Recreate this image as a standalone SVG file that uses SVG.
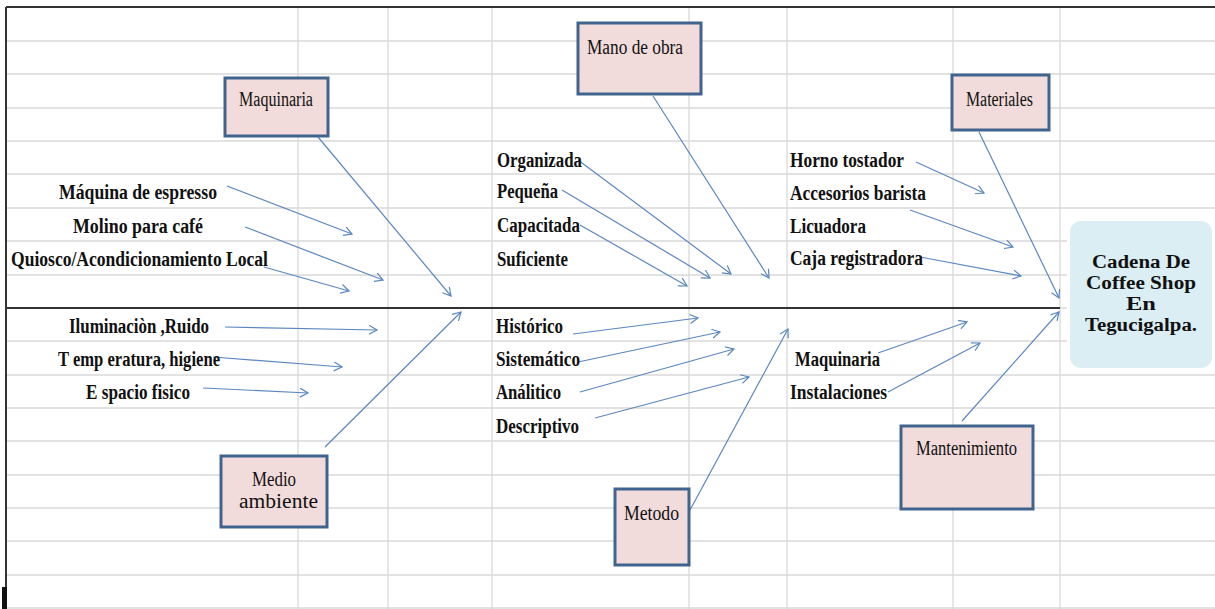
<svg xmlns="http://www.w3.org/2000/svg" width="1215" height="609" viewBox="0 0 1215 609">
<style>
.grid{stroke:#D9D9D9;stroke-width:1.3;fill:none}
.border{stroke:#333;stroke-width:2;fill:none}
.cause rect{fill:#F2DCDB;stroke:#41648F;stroke-width:3}
.cause text{font-family:"Liberation Serif",serif;font-size:20px;fill:#111}
.lbl{font-family:"Liberation Serif",serif;font-size:20px;font-weight:bold;fill:#111}
.conn line{stroke:#5B87C0;stroke-width:1.2;fill:none;marker-end:url(#arr)}
.effect text{font-family:"Liberation Serif",serif;font-size:18px;font-weight:bold;fill:#111;text-anchor:middle}
</style>
<defs>
<marker id="arr" markerUnits="userSpaceOnUse" markerWidth="12" markerHeight="12" refX="9" refY="5" orient="auto">
<path d="M1,0.5 L9,5 L1,9.5" fill="none" stroke="#5B87C0" stroke-width="1.2"/>
</marker>
</defs>
<rect x="0" y="0" width="1215" height="609" fill="#fff"/>
<g id="grid">
<path class="grid" d="M6,41H1215M6,74H1215M6,108H1215M6,141H1215M6,174H1215M6,208H1215M6,241H1215M6,275H1215M1060,308H1215M6,341H1215M6,375H1215M6,408H1215M6,441H1215M6,475H1215M6,508H1215M6,541H1215M6,575H1215M6,608H1215"/>
<path class="grid" d="M298,7V609M388,7V609M492,7V609M689,7V609M787,7V609M953,7V609M1060,7V609"/>
<path class="border" d="M6,7H1215M6,7V609M6,308H1060"/>
<rect x="2" y="587" width="5" height="22" fill="#111"/>
</g>
<g id="connectors" class="conn">
<line x1="227" y1="186" x2="352" y2="234"/>
<line x1="245" y1="227" x2="383" y2="280"/>
<line x1="264" y1="267" x2="349" y2="291"/>
<line x1="318" y1="137" x2="451" y2="296"/>
<line x1="578" y1="160" x2="731" y2="274"/>
<line x1="562" y1="190" x2="710" y2="278"/>
<line x1="580" y1="225" x2="687" y2="286"/>
<line x1="653" y1="96" x2="769" y2="278"/>
<line x1="916" y1="162" x2="984" y2="193"/>
<line x1="910" y1="210" x2="1013" y2="247"/>
<line x1="920" y1="257" x2="1021" y2="276"/>
<line x1="979" y1="132" x2="1059" y2="298"/>
<line x1="225" y1="327" x2="377" y2="330"/>
<line x1="213" y1="357" x2="342" y2="367"/>
<line x1="203" y1="388" x2="308" y2="393"/>
<line x1="325" y1="447" x2="461" y2="312"/>
<line x1="573" y1="334" x2="698" y2="318"/>
<line x1="578" y1="362" x2="720" y2="332"/>
<line x1="580" y1="392" x2="734" y2="349"/>
<line x1="595" y1="418" x2="749" y2="377"/>
<line x1="690" y1="510" x2="788" y2="329"/>
<line x1="878" y1="353" x2="967" y2="322"/>
<line x1="888" y1="392" x2="980" y2="343"/>
<line x1="962" y1="421" x2="1059" y2="312"/>
</g>
<g id="labels">
<text class="lbl" x="59" y="199" textLength="158" lengthAdjust="spacingAndGlyphs">Máquina de espresso</text>
<text class="lbl" x="73" y="233" textLength="130" lengthAdjust="spacingAndGlyphs">Molino para café</text>
<text class="lbl" x="11" y="266" textLength="257" lengthAdjust="spacingAndGlyphs">Quiosco/Acondicionamiento Local</text>
<text class="lbl" x="497" y="167" textLength="85" lengthAdjust="spacingAndGlyphs">Organizada</text>
<text class="lbl" x="497" y="198" textLength="61" lengthAdjust="spacingAndGlyphs">Pequeña</text>
<text class="lbl" x="497" y="232" textLength="83" lengthAdjust="spacingAndGlyphs">Capacitada</text>
<text class="lbl" x="497" y="266" textLength="71" lengthAdjust="spacingAndGlyphs">Suficiente</text>
<text class="lbl" x="790" y="167" textLength="114" lengthAdjust="spacingAndGlyphs">Horno tostador</text>
<text class="lbl" x="790" y="200" textLength="136" lengthAdjust="spacingAndGlyphs">Accesorios barista</text>
<text class="lbl" x="790" y="233" textLength="76" lengthAdjust="spacingAndGlyphs">Licuadora</text>
<text class="lbl" x="790" y="265" textLength="133" lengthAdjust="spacingAndGlyphs">Caja registradora</text>
<text class="lbl" x="69" y="333" textLength="140" lengthAdjust="spacingAndGlyphs">Iluminaciòn ,Ruido</text>
<text class="lbl" x="58" y="366" textLength="162" lengthAdjust="spacingAndGlyphs">T emp eratura, higiene</text>
<text class="lbl" x="86" y="399" textLength="104" lengthAdjust="spacingAndGlyphs">E spacio fisico</text>
<text class="lbl" x="496" y="333" textLength="67" lengthAdjust="spacingAndGlyphs">Histórico</text>
<text class="lbl" x="496" y="366" textLength="84" lengthAdjust="spacingAndGlyphs">Sistemático</text>
<text class="lbl" x="496" y="399" textLength="65" lengthAdjust="spacingAndGlyphs">Análitico</text>
<text class="lbl" x="496" y="433" textLength="83" lengthAdjust="spacingAndGlyphs">Descriptivo</text>
<text class="lbl" x="795" y="366" textLength="85" lengthAdjust="spacingAndGlyphs">Maquinaria</text>
<text class="lbl" x="790" y="399" textLength="97" lengthAdjust="spacingAndGlyphs">Instalaciones</text>
</g>
<g id="maquinaria" class="cause">
<rect x="225" y="78" width="103" height="58"/>
<text x="239" y="106" textLength="74" lengthAdjust="spacingAndGlyphs">Maquinaria</text>
</g>
<g id="mano-de-obra" class="cause">
<rect x="578" y="23" width="123" height="71"/>
<text x="587" y="54" textLength="96" lengthAdjust="spacingAndGlyphs">Mano de obra</text>
</g>
<g id="materiales" class="cause">
<rect x="952" y="75" width="97" height="55"/>
<text x="966" y="106" textLength="67" lengthAdjust="spacingAndGlyphs">Materiales</text>
</g>
<g id="medio-ambiente" class="cause">
<rect x="221" y="456" width="106" height="71"/>
<text x="252" y="486" textLength="44" lengthAdjust="spacingAndGlyphs">Medio</text>
<text x="239" y="508" textLength="79" lengthAdjust="spacingAndGlyphs">ambiente</text>
</g>
<g id="metodo" class="cause">
<rect x="615" y="489" width="74" height="76"/>
<text x="624" y="520" textLength="55" lengthAdjust="spacingAndGlyphs">Metodo</text>
</g>
<g id="mantenimiento" class="cause">
<rect x="901" y="426" width="132" height="83"/>
<text x="916" y="455" textLength="101" lengthAdjust="spacingAndGlyphs">Mantenimiento</text>
</g>
<g id="efecto" class="effect">
<rect x="1067" y="219" width="148" height="152" fill="#fff"/>
<rect x="1070" y="221" width="142" height="147" rx="11" fill="#DBEEF4"/>
<text x="1141" y="268" textLength="98" lengthAdjust="spacingAndGlyphs">Cadena De</text>
<text x="1141" y="289" textLength="110" lengthAdjust="spacingAndGlyphs">Coffee Shop</text>
<text x="1141" y="310" textLength="30" lengthAdjust="spacingAndGlyphs">En</text>
<text x="1141" y="331" textLength="112" lengthAdjust="spacingAndGlyphs">Tegucigalpa.</text>
</g>
</svg>
